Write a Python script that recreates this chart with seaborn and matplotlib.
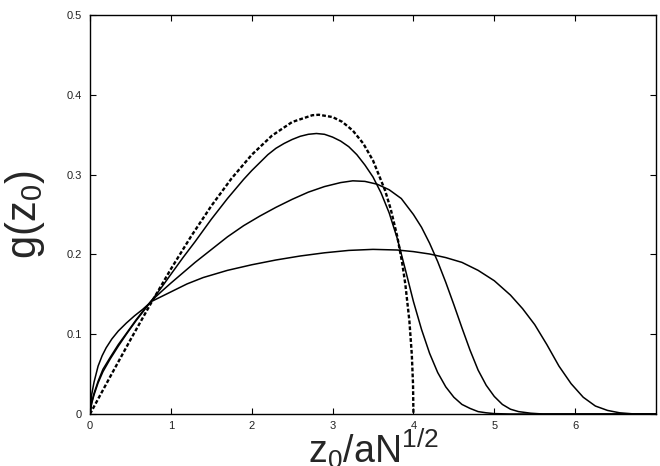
import matplotlib
matplotlib.use("Agg")
import matplotlib.pyplot as plt
import seaborn as sns

# End-point distribution g(z0) against scaled height z0/aN^1/2.
# Limiting (infinite chain) profile, drawn dashed.
z_limit = [0, 0.25, 0.5, 0.75, 1.0, 1.25, 1.5, 1.75, 2.0, 2.25, 2.5, 2.75, 2.83,
           3.0, 3.12, 3.25, 3.38, 3.5, 3.65, 3.72, 3.8, 3.86, 3.9, 3.95, 3.98,
           3.995, 4.0]
g_limit = [0, 0.0468, 0.0930, 0.1381, 0.1816, 0.2226, 0.2607, 0.2951, 0.3248,
           0.3488, 0.3659, 0.3744, 0.3750, 0.3721, 0.3661, 0.3552, 0.3389,
           0.3177, 0.2800, 0.2564, 0.2225, 0.1898, 0.1625, 0.1167, 0.0745,
           0.0374, 0.0]

# Finite-chain profiles (solid), from the narrowest to the broadest.
z_a = [0, 0.02, 0.05, 0.1, 0.16, 0.25, 0.35, 0.45, 0.57, 0.67, 0.76, 0.88, 1.0,
       1.15, 1.3, 1.5, 1.7, 1.9, 2.0, 2.1, 2.2, 2.3, 2.4, 2.5, 2.6, 2.7, 2.8,
       2.9, 3.0, 3.1, 3.2, 3.3, 3.4, 3.5, 3.6, 3.7, 3.8, 3.9, 4.0, 4.1, 4.2,
       4.3, 4.4, 4.5, 4.6, 4.7, 4.8, 4.9, 5.0, 5.2, 7.0]
g_a = [0, 0.013, 0.024, 0.039, 0.053, 0.069, 0.085, 0.100, 0.117, 0.130, 0.142,
       0.158, 0.175, 0.196, 0.216, 0.244, 0.270, 0.294, 0.305, 0.315, 0.325,
       0.333, 0.339, 0.344, 0.348, 0.3505, 0.3515, 0.3505, 0.347, 0.342, 0.335,
       0.325, 0.312, 0.297, 0.277, 0.252, 0.220, 0.181, 0.141, 0.106, 0.076,
       0.052, 0.034, 0.021, 0.012, 0.007, 0.003, 0.0015, 0.0005, 0.0, 0.0]

z_b = [0, 0.02, 0.05, 0.1, 0.16, 0.25, 0.35, 0.45, 0.57, 0.67, 0.76, 0.9, 1.0,
       1.15, 1.3, 1.5, 1.7, 1.9, 2.1, 2.3, 2.5, 2.7, 2.9, 3.1, 3.25, 3.4, 3.55,
       3.7, 3.85, 4.0, 4.1, 4.2, 4.3, 4.4, 4.5, 4.6, 4.7, 4.8, 4.9, 5.0, 5.1,
       5.2, 5.3, 5.45, 5.6, 7.0]
g_b = [0, 0.014, 0.026, 0.041, 0.056, 0.071, 0.087, 0.101, 0.118, 0.131, 0.142,
       0.155, 0.164, 0.177, 0.190, 0.206, 0.222, 0.236, 0.248, 0.259, 0.269,
       0.278, 0.285, 0.290, 0.2922, 0.2915, 0.288, 0.281, 0.270, 0.250, 0.234,
       0.214, 0.191, 0.165, 0.137, 0.108, 0.080, 0.055, 0.036, 0.022, 0.012,
       0.006, 0.003, 0.001, 0.0, 0.0]

z_c = [0, 0.02, 0.05, 0.1, 0.15, 0.2, 0.27, 0.35, 0.45, 0.55, 0.65, 0.76, 0.9,
       1.0, 1.2, 1.4, 1.7, 2.0, 2.3, 2.6, 2.9, 3.2, 3.5, 3.8, 4.0, 4.2, 4.4,
       4.6, 4.8, 5.0, 5.2, 5.35, 5.5, 5.65, 5.8, 5.95, 6.1, 6.25, 6.4, 6.55,
       6.7, 6.85, 7.0]
g_c = [0, 0.024, 0.040, 0.060, 0.073, 0.083, 0.094, 0.104, 0.114, 0.123, 0.131,
       0.141, 0.148, 0.153, 0.163, 0.171, 0.180, 0.187, 0.193, 0.198, 0.202,
       0.205, 0.2063, 0.2055, 0.2035, 0.2005, 0.196, 0.190, 0.180, 0.167,
       0.149, 0.132, 0.112, 0.087, 0.060, 0.038, 0.021, 0.010, 0.0045, 0.0015,
       0.0003, 0.0, 0.0]

x_ticks = [0, 1, 2, 3, 4, 5, 6]
x_tick_labels = ["0", "1", "2", "3", "4", "5", "6"]
y_ticks = [0, 0.1, 0.2, 0.3, 0.4, 0.5]
y_tick_labels = ["0", "0.1", "0.2", "0.3", "0.4", "0.5"]

sns.set_theme(style="ticks")
plt.rcParams["font.family"] = ["Liberation Sans", "DejaVu Sans"]
plt.rcParams["mathtext.fontset"] = "custom"
plt.rcParams["mathtext.rm"] = "Liberation Sans"
plt.rcParams["mathtext.it"] = "Liberation Sans"
plt.rcParams["mathtext.default"] = "regular"

fig = plt.figure(figsize=(6.6, 4.66), dpi=100)
ax = fig.add_axes([90 / 660, 52 / 466, 566 / 660, 399 / 466])

for zs, gs in [(z_a, g_a), (z_b, g_b), (z_c, g_c)]:
    sns.lineplot(x=zs, y=gs, ax=ax, color="black", linewidth=1.1,
                 estimator=None, sort=False)

sns.lineplot(x=z_limit, y=g_limit, ax=ax, color="black", linewidth=1.7,
             estimator=None, sort=False, linestyle=(0, (1.6, 0.9)))

ax.set_xlim(0, 7)
ax.set_ylim(0, 0.5)
ax.set_xticks(x_ticks)
ax.set_xticklabels(x_tick_labels)
ax.set_yticks(y_ticks)
ax.set_yticklabels(y_tick_labels)
ax.tick_params(direction="in", length=4, width=0.8, top=True, right=True,
               labelsize=8, labelcolor="#222222", color="black")
ax.tick_params(axis="x", pad=5)
ax.tick_params(axis="y", pad=6)
for s in ax.spines.values():
    s.set_linewidth(1.0)
    s.set_color("black")
    s.set_visible(True)

ax.set_xlabel(r"z$_0$/aN$^{1/2}$", fontsize=27, va="baseline")
ax.xaxis.set_label_coords(0.5, -0.123)
ax.set_ylabel(r"g(z$_0$)", fontsize=30)
ax.yaxis.set_label_coords(-0.076, 0.5)

fig.savefig("out.png", dpi=100)
